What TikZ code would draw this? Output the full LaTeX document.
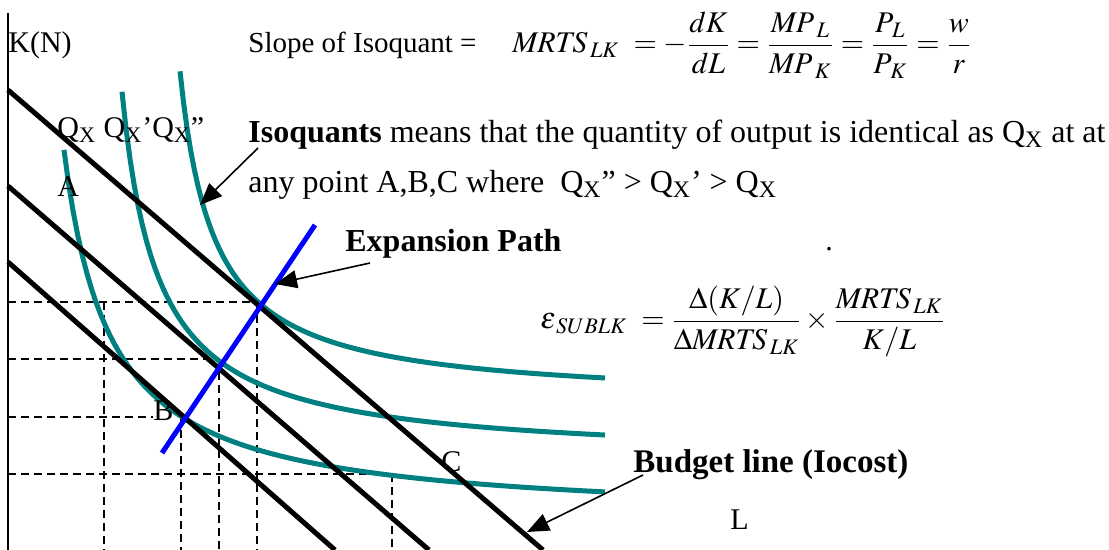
\documentclass[tikz,border=0pt]{standalone}
\usepackage{amsmath}
\usepackage{mathptmx}
\usepackage{fontspec}
\setmainfont{Liberation Serif}
\usepackage{tikz}
\usetikzlibrary{arrows.meta,positioning}
\definecolor{isoteal}{RGB}{0,128,128}
\definecolor{pathblue}{RGB}{0,0,255}

\begin{document}
\begin{tikzpicture}[x=0.5pt,y=-0.5pt,
    every node/.style={font=\fontsize{15}{17}\selectfont,inner sep=0pt,anchor=base west},
    bigtext/.style={font=\fontsize{16}{18}\selectfont},
    budget/.style={line width=2.5pt},
    isoquant/.style={line width=2.5pt,color=isoteal},
    guide/.style={dashed,line width=0.7pt,dash pattern=on 4pt off 2.5pt},
    pointer/.style={line width=0.8pt,-{Triangle[length=11pt,width=9pt]}}]
  \useasboundingbox (0,0) rectangle (1109,550);
  % axis
  \draw[line width=1pt] (8,13) -- (8,550);
  % dashed guides
  \draw[guide] (8,302) -- (258,302);
  \draw[guide] (8,359) -- (219,359);
  \draw[guide] (8,417) -- (153,417);
  \draw[guide] (8,474) -- (392,474);
  \draw[guide] (104,302) -- (104,550);
  \draw[guide] (181,417) -- (181,550);
  \draw[guide] (219,359) -- (219,550);
  \draw[guide] (257,302) -- (257,550);
  \draw[guide] (392,474) -- (392,550);
  % isoquants
  \draw[isoquant] plot[domain=64:605,samples=120] (\x,{521-170.70/((\x-18)/100)});
  \draw[isoquant] plot[domain=122:605,samples=120] (\x,{460.6-132.77/((\x-86)/100)});
  \draw[isoquant] plot[domain=180:605,samples=120] (\x,{402.5-112.59/((\x-146)/100)});
  % budget lines
  \draw[budget] (8,90) -- (543,550);
  \draw[budget] (8,186) -- (429,550);
  \draw[budget] (8,262) -- (335,550);
  % expansion path
  \draw[line width=2.5pt,color=pathblue] (162,453) -- (315,225);

  \node (kaxis) at (8,53) {K(N)};
  \node[font=\fontsize{14.5}{17}\selectfont] (slope) at (248,53) {Slope of Isoquant =};
  \node (mrts) at (512,53)
    {$\mathit{MRTS}_{\,LK}\ = -\dfrac{dK}{dL} = \dfrac{\mathit{MP}_{\,L}}{\mathit{MP}_{\,K}} = \dfrac{P_{\,L}}{P_{\,K}} = \dfrac{w}{r}$};
  \node (qlabels) at (57,138)
    {Q\textsubscript{X} Q\textsubscript{X}’Q\textsubscript{X}”};
  \node (ptA) at (57,197) {A};
  \node[bigtext] (isotext) at (248,143)
    {\textbf{Isoquants} means that the quantity of output is identical as Q\textsubscript{X} at at};
  \node[bigtext] (anypoint) at (248,193)
    {any point A,B,C where \ Q\textsubscript{X}” > Q\textsubscript{X}’ > Q\textsubscript{X}};
  \node[bigtext] (exptext) at (345,252) {\textbf{Expansion Path}};
  \node (dot) at (825,251) {.};
  \node (elast) at (540,329)
    {$\varepsilon_{\,SUBLK}\ = \dfrac{\Delta(K/L)}{\Delta \mathit{MRTS}_{\,LK}}\times\dfrac{\mathit{MRTS}_{\,LK}}{K/L}$};
  \node (ptB) at (153,421) {B};
  \node (ptC) at (441,472) {C};
  \node[font=\fontsize{16.5}{18}\selectfont] (budtext) at (633,473) {\textbf{Budget line (Iocost)}};
  \node (laxis) at (730,530) {L};

  \coordinate (isoStart) at (258,148);
  \coordinate (isoTip) at (200,205);
  \coordinate (expStart) at (370,263);
  \coordinate (expTip) at (275,284);
  \coordinate (budStart) at (643,475);
  \coordinate (budTip) at (527,532);
  \draw[pointer] (isoStart) -- (isoTip);
  \draw[pointer] (expStart) -- (expTip);
  \draw[pointer] (budStart) -- (budTip);
\end{tikzpicture}
\end{document}
